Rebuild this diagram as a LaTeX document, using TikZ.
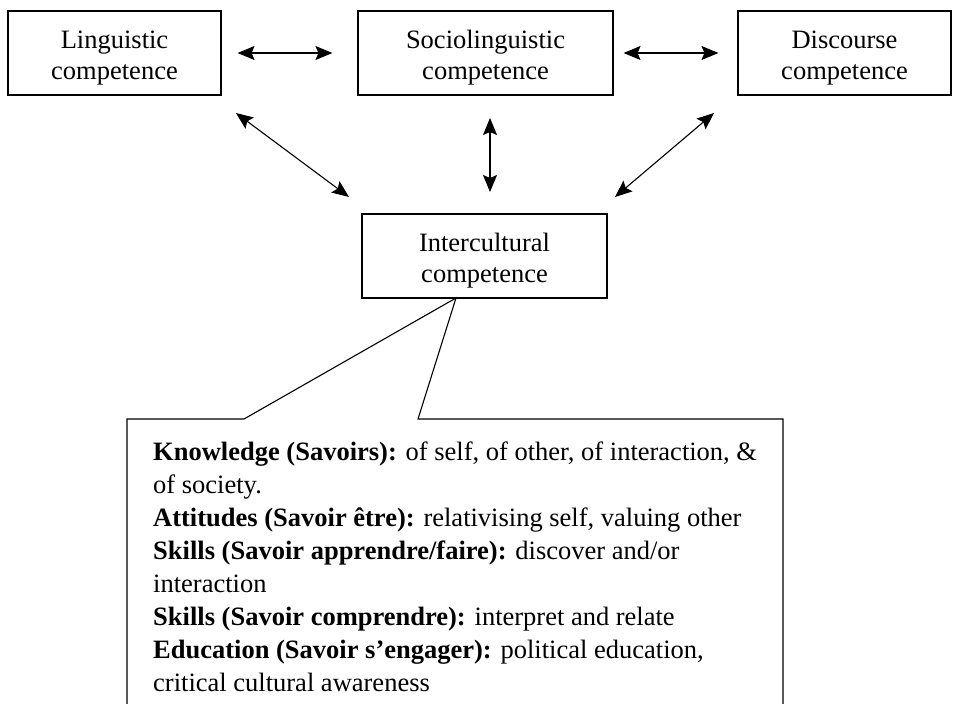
\documentclass[tikz,border=0pt]{standalone}
\usepackage{fontspec}
\setmainfont{Liberation Serif}
\usetikzlibrary{arrows.meta}
\newcommand\boxlift{\rule{0pt}{28pt}}
\begin{document}
\begin{tikzpicture}[x=1pt,y=-1pt,
  box/.style={draw, line width=1.1pt, inner sep=0pt, align=center,
    minimum height=84pt, font=\fontsize{26.5}{31}\selectfont},
  tip/.tip={Stealth[length=17pt,width=14pt,inset=3pt]},
  link/.style={tip-tip, line width=1.1pt},
  callout/.style={line width=1.1pt},
  body/.style={anchor=base west, align=left, inner sep=0pt,
    font=\fontsize{26.5}{33}\selectfont}]
\useasboundingbox (0,0) rectangle (954,704);
\node[box, minimum width=213pt] (ling) at (114.5,53) {\boxlift Linguistic\\competence};
\node[box, minimum width=255pt] (socio) at (485.5,53) {\boxlift Sociolinguistic\\competence};
\node[box, minimum width=213pt] (disc) at (844.5,53) {\boxlift Discourse\\competence};
\node[box, minimum width=245pt] (inter) at (484.5,256) {\boxlift Intercultural\\competence};
\draw[link, shorten <=16pt, shorten >=25pt] (ling) -- (socio);
\draw[link, shorten <=10pt, shorten >=19pt] (socio) -- (disc);
\coordinate (la) at (236,113);
\coordinate (lb) at (349,197);
\coordinate (ma) at (490,118);
\coordinate (mb) at (490,192);
\coordinate (ra) at (714,113);
\coordinate (rb) at (615,197);
\draw[link] (la) -- (lb);
\draw[link] (ma) -- (mb);
\draw[link] (ra) -- (rb);
\coordinate (apex) at (456,298);
\draw[callout] (127,706) -- (127,419) -- (244,419) -- (apex) -- (418,419) -- (783,419) -- (783,706);
\node[body] (txt) at (153,691) {\textbf{Knowledge (Savoirs):} of self, of other, of interaction, \&\\
of society.\\
\textbf{Attitudes (Savoir être):} relativising self, valuing other\\
\textbf{Skills (Savoir apprendre/faire):} discover and/or\\
interaction\\
\textbf{Skills (Savoir comprendre):} interpret and relate\\
\textbf{Education (Savoir s’engager):} political education,\\
critical cultural awareness};
\end{tikzpicture}
\end{document}
